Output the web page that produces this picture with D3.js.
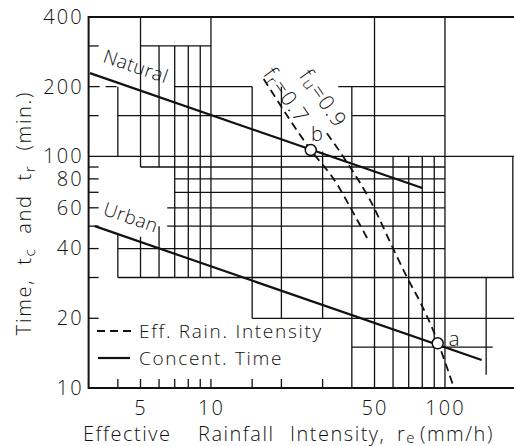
<!DOCTYPE html>
<html>
<head>
<meta charset="utf-8">
<script src="https://cdn.jsdelivr.net/npm/d3@7"></script>
<style>
  body { margin: 0; background: #fff; }
  svg text { font-family: "Open Sans", "DejaVu Sans", sans-serif; font-weight: 300; fill: #111; }
</style>
</head>
<body>
<svg id="chart" width="514" height="446"></svg>
<script>
// values
const xTickValues = [5, 10, 50, 100];
const yTickValues = [10, 20, 40, 60, 80, 100, 200, 400];
const xSmallTicks = [4, 5, 6, 7, 8, 9, 10, 15, 20, 30];
const ySmallTicks = [20, 30, 40, 50, 60, 70, 80, 90, 150, 300];

// pieces of the printed grid: [y, xFrom, xTo] and [x, yFrom, yTo]
const hGrid = [
  [300, 5, 10],
  [200, 7, 15], [200, 35, 100],
  [150, 4, 20], [150, 40, 100],
  [100, 3, 200],
  [90, 5, 100], [80, 7, 100], [70, 7, 100],
  [60, 6.5, 100], [50, 6.5, 100], [40, 4, 100],
  [30, 4, 200], [20, 15, 200], [15, 40, 160]
];
const vGrid = [
  [4, 100, 200], [4, 30, 46],
  [5, 90, 400], [5, 30, 45],
  [6, 90, 300], [6, 30, 50],
  [7, 30, 300], [8, 30, 300], [9, 30, 300],
  [10, 30, 400],
  [15, 20, 200], [20, 20, 200], [30, 20, 105],
  [40, 10, 200], [50, 10, 400],
  [60, 10, 100], [70, 10, 100], [80, 10, 100], [90, 10, 100],
  [100, 10, 400], [150, 11.4, 30], [195, 30, 100]
];

// concentration time lines
const naturalX = [3.04, 80];
const naturalY = [229, 73];
const urbanX = [3.19, 143.5];
const urbanY = [50, 13.2];

// effective rainfall intensity curves
const frX = [16.8, 26.7, 34.4, 39.3, 46.5];
const frY = [216, 106.6, 76.6, 60.5, 44.4];
const fuX = [31.3, 39.3, 47.8, 60.5, 68.8, 78.2, 88.9, 109.3];
const fuY = [126, 90, 64.9, 39.4, 30.1, 23.6, 17.8, 10];

// intersection points
const pointNames = ["b", "a"];
const pointX = [26.7, 93.1];
const pointY = [106.6, 15.6];

const svg = d3.select("#chart");
const x = d3.scaleLog().domain([3, 200]).range([88.6, 515.4]);
const y = d3.scaleLog().domain([10, 400]).range([388, 17]);

const ink = "#111";

// grid
svg.append("g").selectAll("line").data(hGrid).join("line")
  .attr("x1", d => x(d[1])).attr("x2", d => x(d[2]))
  .attr("y1", d => y(d[0])).attr("y2", d => y(d[0]))
  .attr("stroke", ink).attr("stroke-width", 1.3);

svg.append("g").selectAll("line").data(vGrid).join("line")
  .attr("x1", d => x(d[0])).attr("x2", d => x(d[0]))
  .attr("y1", d => y(d[1])).attr("y2", d => y(d[2]))
  .attr("stroke", ink).attr("stroke-width", 1.3);

// frame (left, top, bottom)
svg.append("path")
  .attr("d", `M${x(200)},${y(400)}H${x(3)}V${y(10)}H${x(200)}`)
  .attr("stroke", ink).attr("stroke-width", 2).attr("fill", "none");

// small ticks
svg.append("g").selectAll("line").data(ySmallTicks).join("line")
  .attr("x1", x(3)).attr("x2", x(3) + 10)
  .attr("y1", d => y(d)).attr("y2", d => y(d))
  .attr("stroke", ink).attr("stroke-width", 1.3);
svg.append("line")
  .attr("x1", x(3)).attr("x2", x(4))
  .attr("y1", y(200)).attr("y2", y(200))
  .attr("stroke", ink).attr("stroke-width", 1.3).attr("stroke-dasharray", "11,6");
svg.append("g").selectAll("line").data(xSmallTicks).join("line")
  .attr("x1", d => x(d)).attr("x2", d => x(d))
  .attr("y1", y(10)).attr("y2", y(10) - 9)
  .attr("stroke", ink).attr("stroke-width", 1.3);

// tick labels
const yAxis = svg.append("g")
  .attr("transform", `translate(${x(3)},0)`)
  .call(d3.axisLeft(y).tickValues(yTickValues).tickSize(0).tickPadding(5).tickFormat(d3.format("d")));
yAxis.select(".domain").remove();
yAxis.selectAll("text").style("font-size", "20px").style("letter-spacing", "2px").attr("fill", ink);

const xAxis = svg.append("g")
  .attr("transform", `translate(0,${y(10)})`)
  .call(d3.axisBottom(x).tickValues(xTickValues).tickSize(0).tickPadding(13).tickFormat(d3.format("d")));
xAxis.select(".domain").remove();
xAxis.selectAll("text").style("font-size", "20px").style("letter-spacing", "2px").attr("fill", ink);

// data lines
const line = d3.line().x(d => x(d[0])).y(d => y(d[1]));
const curve = d3.line().x(d => x(d[0])).y(d => y(d[1])).curve(d3.curveMonotoneX);

svg.append("path").datum(d3.zip(naturalX, naturalY))
  .attr("d", line).attr("fill", "none").attr("stroke", ink).attr("stroke-width", 2.2);
svg.append("path").datum(d3.zip(urbanX, urbanY))
  .attr("d", line).attr("fill", "none").attr("stroke", ink).attr("stroke-width", 2.2);
svg.append("path").datum(d3.zip(frX, frY))
  .attr("d", curve).attr("fill", "none").attr("stroke", ink).attr("stroke-width", 1.8)
  .attr("stroke-dasharray", "8,5");
svg.append("path").datum(d3.zip(fuX, fuY))
  .attr("d", curve).attr("fill", "none").attr("stroke", ink).attr("stroke-width", 1.8)
  .attr("stroke-dasharray", "8,5");

svg.append("g").selectAll("circle").data(pointX).join("circle")
  .attr("cx", d => x(d)).attr("cy", (d, i) => y(pointY[i])).attr("r", 5.5)
  .attr("fill", "#fff").attr("stroke", ink).attr("stroke-width", 1.5);

// point names
svg.append("text").attr("x", 317).attr("y", 141).attr("text-anchor", "middle")
  .style("font-size", "20px").text(pointNames[0]);
svg.append("text").attr("x", 454).attr("y", 346).attr("text-anchor", "middle")
  .style("font-size", "21px").text(pointNames[1]);

// line labels
svg.append("text").attr("transform", "translate(136,66) rotate(19)")
  .attr("text-anchor", "middle").attr("dominant-baseline", "central")
  .style("font-size", "19px").style("letter-spacing", "0.6px").text("Natural");
svg.append("text").attr("transform", "translate(131,217) rotate(19)")
  .attr("text-anchor", "middle").attr("dominant-baseline", "central")
  .style("font-size", "19px").style("letter-spacing", "0.6px").text("Urban");

function fLabel(cx, cy, sub, val) {
  const t = svg.append("text").attr("transform", `translate(${cx},${cy}) rotate(55)`)
    .attr("text-anchor", "middle").attr("dominant-baseline", "central")
    .style("font-size", "21px").style("letter-spacing", "1.5px");
  t.append("tspan").text("f");
  t.append("tspan").attr("dy", 4).style("font-size", "16px").text(sub);
  t.append("tspan").attr("dy", -4).text("=" + val);
}
fLabel(287, 95, "r", "0.7");
fLabel(324, 98, "u", "0.9");

// legend
svg.append("line").attr("x1", 97).attr("x2", 132).attr("y1", 331).attr("y2", 331)
  .attr("stroke", ink).attr("stroke-width", 1.8).attr("stroke-dasharray", "8,5");
svg.append("text").attr("x", 139).attr("y", 338).style("font-size", "19px")
  .style("letter-spacing", "1.7px").text("Eff. Rain. Intensity");
svg.append("line").attr("x1", 98).attr("x2", 130).attr("y1", 358).attr("y2", 358)
  .attr("stroke", ink).attr("stroke-width", 2.2);
svg.append("text").attr("x", 139).attr("y", 365).style("font-size", "19px")
  .style("letter-spacing", "1.7px").text("Concent. Time");

// axis titles
const xt = [["Effective", 83], ["Rainfall", 198], ["Intensity,", 290]];
xt.forEach(([s, px]) => svg.append("text").attr("x", px).attr("y", 441)
  .style("font-size", "20px").style("letter-spacing", "1.5px").text(s));
const re = svg.append("text").attr("x", 397).attr("y", 441)
  .style("font-size", "20px").style("letter-spacing", "1.5px");
re.append("tspan").text("r");
re.append("tspan").attr("dy", 2).style("font-size", "15px").text("e");
re.append("tspan").attr("dy", -2).attr("x", 420).text("(mm/h)");

const yt = svg.append("text").attr("transform", "translate(31,213) rotate(-90)")
  .attr("text-anchor", "middle").style("font-size", "20px")
  .style("word-spacing", "7px").style("letter-spacing", "1.7px");
yt.append("tspan").text("Time, t");
yt.append("tspan").attr("dy", 4).style("font-size", "15px").text("c");
yt.append("tspan").attr("dy", -4).text(" and t");
yt.append("tspan").attr("dy", 4).style("font-size", "15px").text("r");
yt.append("tspan").attr("dy", -4).text(" (min.)");
</script>
</body>
</html>
